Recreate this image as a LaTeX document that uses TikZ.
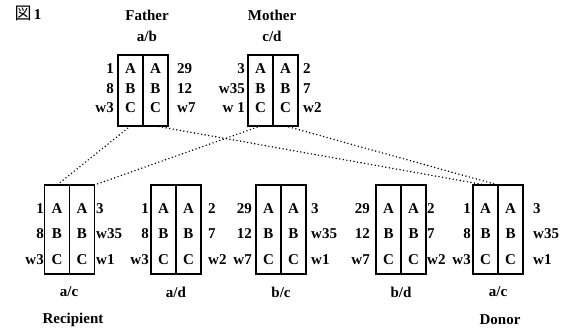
\documentclass[tikz,border=0pt]{standalone}
\usepackage{fontspec}
\setmainfont{Liberation Serif}
\newfontfamily\jpfont{Noto Sans CJK JP}
\usetikzlibrary{positioning}

\begin{document}
\begin{tikzpicture}[x=1pt,y=-1pt,font=\bfseries\fontsize{15}{17}\selectfont,
      col/.style={draw,line width=1.2pt,minimum width=25pt,inner sep=0pt,outer sep=0pt},
      topcol/.style={col,minimum height=71pt},
      lowcol/.style={col,minimum height=89pt},
      lbl/.style={inner sep=1pt},
      link/.style={line width=1.6pt,line cap=round,dash pattern=on 0pt off 3.6pt}]
      \useasboundingbox (0,0) rectangle (563,329);
      \node (fig) at (28,13) {{\jpfont\mdseries\fontsize{17}{19}\selectfont 図}\,1};
      % parents
      \node (fat) at (147,15) {Father};
      \node (fab) at (147,36) {a/b};
      \node (mot) at (272,15) {Mother};
      \node (mcd) at (272,36) {c/d};
      \node[topcol] (fl) at (130.5,90.5) {};
      \node[topcol] (fr) [right=0pt of fl] {};
      \node[topcol] (ml) at (260.5,90.5) {};
      \node[topcol] (mr) [right=0pt of ml] {};
      % children
      \node[lowcol] (rl)  at (57,229.5) {};
      \node[lowcol] (rr)  [right=0pt of rl] {};
      \node[lowcol] (adl) at (163.5,229.5) {};
      \node[lowcol] (adr) [right=0pt of adl] {};
      \node[lowcol] (bcl) at (268.5,229.5) {};
      \node[lowcol] (bcr) [right=0pt of bcl] {};
      \node[lowcol] (bdl) at (388.5,229.5) {};
      \node[lowcol] (bdr) [right=0pt of bdl] {};
      \node[lowcol] (dl)  at (485.5,229.5) {};
      \node[lowcol] (dr)  [right=0pt of dl] {};
      % loci
      \foreach \c in {fl,fr,ml,mr}
        \foreach \t/\y in {A/69,B/89,C/108}
          \node (\c\t) at (\c |- 0,\y) {\t};
      \foreach \c in {rl,rr,adl,adr,bcl,bcr,bdl,bdr,dl,dr}
        \foreach \t/\y in {A/209,B/234,C/260}
          \node (\c\t) at (\c |- 0,\y) {\t};
      % alleles
      \foreach \p/\x/\a/\r/\s/\t in {fa/115/east/1/8/w3, fb/176/west/29/12/w7,
                                     ma/246/east/3/w35/w 1, mb/302/west/2/7/w2} {
        \node[lbl,anchor=\a] (\p1) at (\x,69) {\r};
        \node[lbl,anchor=\a] (\p2) at (\x,89) {\s};
        \node[lbl,anchor=\a] (\p3) at (\x,108) {\t};
      }
      \foreach \p/\x/\a/\r/\s/\t in {ra/45/east/1/8/w3, rb/95/west/3/w35/w1,
                                     ada/150/east/1/8/w3, adb/207/west/2/7/w2,
                                     bca/253/east/29/12/w7, bcb/310/west/3/w35/w1,
                                     bda/371/east/29/12/w7, bdb/426/west/2/7/w2,
                                     da/472/east/1/8/w3, db/532/west/3/w35/w1} {
        \node[lbl,anchor=\a] (\p1) at (\x,209) {\r};
        \node[lbl,anchor=\a] (\p2) at (\x,234) {\s};
        \node[lbl,anchor=\a] (\p3) at (\x,260) {\t};
      }
      \node (gr)  at (69,292)  {a/c};
      \node (gad) at (176,292) {a/d};
      \node (gbc) at (281,292) {b/c};
      \node (gbd) at (401,292) {b/d};
      \node (gd)  at (498,292) {a/c};
      \node (rec) at (73,320)  {Recipient};
      \node (don) at (500,320) {Donor};
      % inheritance
      \draw[link] (fl.south) -- (rl.north);
      \draw[link] (ml.south) -- (rr.north east);
      \draw[link] (fr.south) -- (dl.north);
      \draw[link] (mr.south) -- (dl.north east);
    \end{tikzpicture}
\end{document}
